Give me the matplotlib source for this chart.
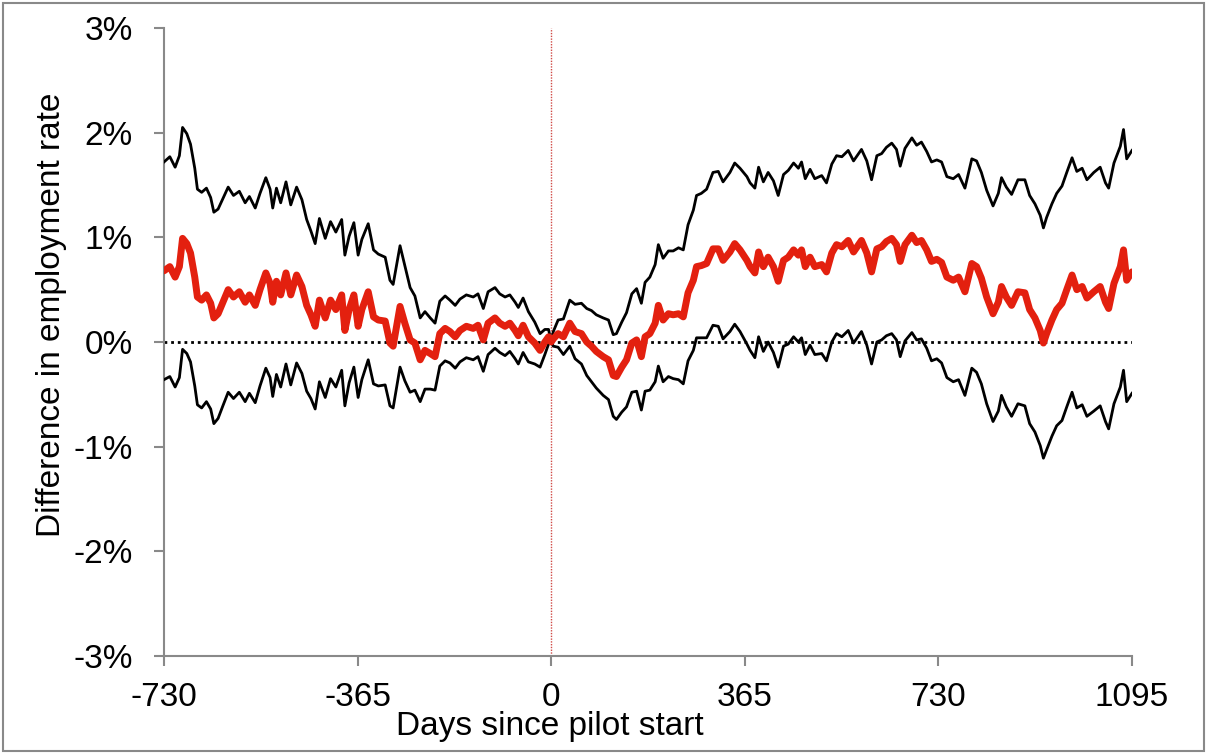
import matplotlib
matplotlib.use("Agg")
import matplotlib.pyplot as plt
from matplotlib.patches import Rectangle
import numpy as np

plt.rcParams['font.family'] = ['Liberation Sans', 'DejaVu Sans']

# days relative to pilot start
days = [
    -730, -719, -709, -701, -695, -687, -680, -672, -667, -659,
    -650, -642, -636, -628, -619, -609, -599, -588, -577, -569,
    -558, -549, -538, -530, -525, -518, -510, -500, -491, -480,
    -470, -461, -453, -445, -437, -426, -416, -406, -395, -389,
    -381, -372, -364, -357, -345, -335, -326, -313, -304, -298,
    -285, -276, -266, -257, -247, -238, -228, -219, -210, -200,
    -191, -181, -172, -160, -147, -138, -128, -119, -106, -97,
    -87, -78, -68, -62, -53, -43, -31, -21, -12, -5,
    0, 4, 13, 23, 35, 45, 57, 67, 76, 85, 98,
    108, 117, 123, 133, 142, 152, 161, 170, 177, 186,
    196, 202, 211, 221, 230, 240, 249, 258, 268, 274,
    283, 293, 305, 315, 324, 337, 346, 356, 369, 375,
    384, 391, 400, 409, 419, 428, 438, 447, 457, 466,
    472, 479, 488, 497, 510, 519, 529, 538, 548, 560,
    570, 585, 595, 604, 614, 623, 632, 642, 651, 658,
    667, 680, 689, 698, 708, 717, 727, 736, 746, 758,
    768, 780, 793, 802, 811, 821, 833, 843, 849, 858,
    868, 880, 893, 902, 912, 922, 928, 934, 944, 953,
    963, 972, 982, 991, 1001, 1010, 1023, 1035, 1045, 1051,
    1061, 1073, 1079, 1085, 1095,
]

# point estimate of the employment-rate difference (percentage points)
estimate = [
    0.68, 0.72, 0.62, 0.72, 0.99, 0.94, 0.85, 0.62, 0.43, 0.40,
    0.45, 0.37, 0.23, 0.27, 0.38, 0.50, 0.43, 0.48, 0.38, 0.45,
    0.35, 0.50, 0.66, 0.56, 0.38, 0.58, 0.45, 0.66, 0.45, 0.64,
    0.53, 0.35, 0.26, 0.15, 0.40, 0.23, 0.40, 0.31, 0.45, 0.11,
    0.31, 0.45, 0.15, 0.31, 0.48, 0.24, 0.21, 0.20, -0.01, -0.04,
    0.34, 0.18, 0.02, -0.01, -0.17, -0.08, -0.11, -0.14, 0.08, 0.13,
    0.10, 0.05, 0.11, 0.15, 0.13, 0.16, 0.02, 0.18, 0.23, 0.18,
    0.15, 0.18, 0.11, 0.06, 0.16, 0.05, -0.01, -0.08, 0.00, 0.05,
    0.00, 0.03, 0.08, 0.05, 0.18, 0.10, 0.08, 0.00, -0.04, -0.09, -0.14,
    -0.17, -0.32, -0.33, -0.24, -0.17, -0.01, 0.02, -0.14, 0.05, 0.08,
    0.18, 0.35, 0.21, 0.27, 0.26, 0.27, 0.24, 0.47, 0.59, 0.72,
    0.73, 0.75, 0.89, 0.89, 0.78, 0.86, 0.94, 0.88, 0.78, 0.72,
    0.66, 0.86, 0.72, 0.81, 0.72, 0.58, 0.78, 0.81, 0.88, 0.83,
    0.88, 0.72, 0.81, 0.72, 0.74, 0.67, 0.85, 0.93, 0.91, 0.97,
    0.86, 0.97, 0.85, 0.67, 0.89, 0.91, 0.96, 0.99, 0.93, 0.77,
    0.93, 1.02, 0.95, 0.97, 0.88, 0.77, 0.79, 0.76, 0.62, 0.59,
    0.62, 0.48, 0.75, 0.72, 0.61, 0.43, 0.27, 0.38, 0.53, 0.43,
    0.35, 0.48, 0.47, 0.31, 0.23, 0.11, -0.01, 0.08, 0.21, 0.31,
    0.37, 0.50, 0.64, 0.50, 0.53, 0.42, 0.48, 0.53, 0.38, 0.32,
    0.56, 0.72, 0.88, 0.59, 0.67,
]

# half-width of the confidence band
ci_half = [
    1.04, 1.05, 1.05, 1.06, 1.06, 1.05, 1.04, 1.04, 1.03, 1.03,
    1.02, 1.01, 1.01, 1.00, 0.99, 0.98, 0.97, 0.96, 0.95, 0.94,
    0.93, 0.92, 0.91, 0.90, 0.90, 0.89, 0.88, 0.87, 0.86, 0.84,
    0.83, 0.82, 0.80, 0.79, 0.78, 0.76, 0.75, 0.74, 0.72, 0.72,
    0.70, 0.69, 0.68, 0.67, 0.65, 0.64, 0.63, 0.61, 0.60, 0.59,
    0.58, 0.55, 0.50, 0.45, 0.40, 0.37, 0.34, 0.32, 0.31, 0.31,
    0.30, 0.30, 0.30, 0.30, 0.30, 0.30, 0.30, 0.30, 0.29, 0.28,
    0.28, 0.27, 0.27, 0.27, 0.26, 0.24, 0.20, 0.16, 0.12, 0.07,
    0.00, 0.07, 0.13, 0.17, 0.22, 0.26, 0.29, 0.32, 0.34, 0.35, 0.37,
    0.38, 0.39, 0.41, 0.43, 0.45, 0.47, 0.49, 0.51, 0.52, 0.54,
    0.56, 0.58, 0.59, 0.60, 0.61, 0.63, 0.64, 0.65, 0.67, 0.68,
    0.69, 0.71, 0.73, 0.74, 0.75, 0.76, 0.77, 0.78, 0.80, 0.80,
    0.81, 0.81, 0.81, 0.81, 0.82, 0.82, 0.82, 0.83, 0.83, 0.83,
    0.84, 0.84, 0.84, 0.84, 0.85, 0.85, 0.85, 0.85, 0.86, 0.86,
    0.87, 0.87, 0.88, 0.88, 0.89, 0.89, 0.90, 0.91, 0.91, 0.91,
    0.92, 0.93, 0.93, 0.94, 0.94, 0.95, 0.95, 0.96, 0.96, 0.97,
    0.98, 0.99, 1.00, 1.01, 1.01, 1.02, 1.03, 1.04, 1.04, 1.05,
    1.06, 1.07, 1.08, 1.09, 1.09, 1.10, 1.10, 1.11, 1.11, 1.11,
    1.12, 1.12, 1.12, 1.13, 1.13, 1.13, 1.14, 1.14, 1.14, 1.15,
    1.15, 1.15, 1.15, 1.16, 1.16,
]

x_ticks = [-730, -365, 0, 365, 730, 1095]
y_ticks = [-3, -2, -1, 0, 1, 2, 3]

days = np.array(days)
estimate = np.array(estimate)
ci_half = np.array(ci_half)
upper = estimate + ci_half
lower = estimate - ci_half

grey = '#898989'

fig = plt.figure(figsize=(12.07, 7.55), dpi=100)
ax = fig.add_axes([164 / 1207, 1 - 656 / 755, 968 / 1207, 628 / 755])

# outer frame around the whole chart
fig.patches.append(Rectangle((3 / 1207, 4 / 755), 1201 / 1207, 748 / 755,
                             transform=fig.transFigure, fill=False,
                             edgecolor=grey, linewidth=1.5))

ax.axvline(0, color='#d04a45', linestyle=(0, (1, 1)), linewidth=1.0, zorder=1)
ax.axhline(0, color='black', linestyle=(0, (1, 1.4)), linewidth=2.0, zorder=2)

ax.plot(days, upper, color='black', linewidth=2.0, zorder=3,
        solid_joinstyle='round')
ax.plot(days, lower, color='black', linewidth=2.0, zorder=3,
        solid_joinstyle='round')
ax.plot(days, estimate, color='#e3200f', linewidth=5.0, zorder=4,
        solid_joinstyle='round', solid_capstyle='round')

ax.set_xlim(-730, 1095)
ax.set_ylim(-3, 3)
ax.set_xticks(x_ticks)
ax.set_xticklabels([str(t) for t in x_ticks])
ax.set_yticks(y_ticks)
ax.set_yticklabels([f'{t}%' for t in y_ticks])

for side in ['top', 'right']:
    ax.spines[side].set_visible(False)
for side in ['left', 'bottom']:
    ax.spines[side].set_color(grey)
    ax.spines[side].set_linewidth(1.5)

ax.tick_params(axis='both', direction='out', length=7.5, width=1.5,
               color=grey, labelsize=24, labelcolor='black')
ax.tick_params(axis='y', pad=15)
ax.tick_params(axis='x', pad=11)

fig.text(550 / 1207, 1 - 727 / 755, 'Days since pilot start',
         ha='center', va='center', fontsize=24)
fig.text(52 / 1207, 1 - 315 / 755, 'Difference in employment rate',
         ha='center', va='center', rotation=90, fontsize=24)

fig.savefig('out.png', dpi=100)
